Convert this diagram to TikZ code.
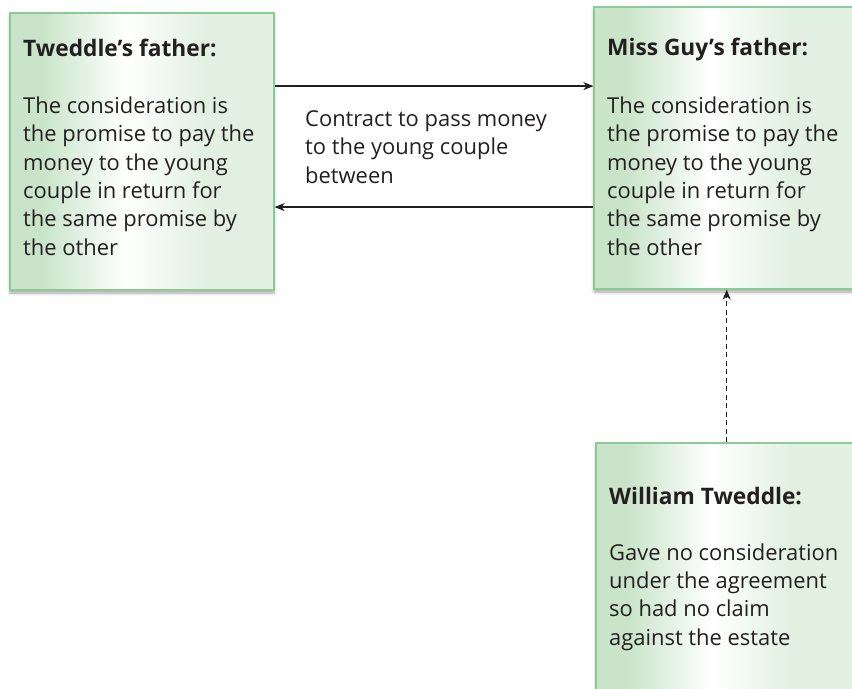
\documentclass[tikz,border=0pt]{standalone}
\usepackage{fontspec}
\setmainfont{Open Sans}
\usetikzlibrary{arrows.meta,shadows.blur}

\definecolor{inkgray}{HTML}{231F20}
\definecolor{boxgreenL}{HTML}{C9E4C9}
\definecolor{boxgreenR}{HTML}{E1F0E1}
\definecolor{boxedge}{HTML}{8CCB94}

% horizontal fill: green at left, white just before the middle, pale green at right
\pgfdeclarehorizontalshading{boxshade}{100bp}{%
  color(0bp)=(boxgreenL); color(25bp)=(boxgreenL); color(31bp)=(boxgreenL);
  color(47bp)=(white); color(62bp)=(boxgreenR); color(75bp)=(boxgreenR);
  color(100bp)=(boxgreenR)}

\tikzset{
  card/.style={rectangle, draw=boxedge, line width=1.2bp, shade, shading=boxshade,
    inner sep=0pt,
    blur shadow={shadow xshift=0bp, shadow yshift=-3bp, shadow blur radius=3bp,
      shadow opacity=35}},
  cardtitle/.style={anchor=base west, inner sep=0pt, text=inkgray,
    font=\fontsize{22.8}{28.4}\selectfont\bfseries},
  % multi-line bodies: the base anchor sits on the last line
  cardbody/.style={anchor=base west, inner sep=0pt, align=left, text=inkgray,
    font=\fontsize{22}{28.4}\selectfont},
  conn/.style={draw=inkgray, line width=1.4bp,
    -{Stealth[length=10bp,width=8bp,inset=3bp]}},
  dashconn/.style={conn, dash pattern=on 5bp off 3.5bp, line width=1bp}
}

\begin{document}
\begin{tikzpicture}[x=1bp,y=-1bp]
\useasboundingbox (0,0) rectangle (852,689);
\clip (0,0) rectangle (852,689);

% the three parties
\node[card, minimum width=264bp, minimum height=277bp] (tf) at (142,151.5) {};
\node[card, minimum width=264bp, minimum height=282bp] (mg) at (726,148) {};
\node[card, minimum width=264bp, minimum height=280bp] (wt) at (728,583) {};

% texts of the boxes
\node[cardtitle] (tfhead) at (23,57) {Tweddle’s father:};
\node[cardbody] (tfbody) at (23,255) {The consideration is\\the promise to pay the\\money to the young\\couple in return for\\the same promise by\\the other};

\node[cardtitle] (mghead) at (607,55.5) {Miss Guy’s father:};
\node[cardbody] (mgbody) at (607,255) {The consideration is\\the promise to pay the\\money to the young\\couple in return for\\the same promise by\\the other};

\node[cardtitle] (wthead) at (609,504) {William Tweddle:};
\node[cardbody] (wtbody) at (609,645) {Gave no consideration\\under the agreement\\so had no claim\\against the estate};

% label between the two fathers
\node[cardbody] (contract) at (305,183) {Contract to pass money\\to the young couple\\between};

% contract arrows between the fathers
\path ([yshift=-73.7bp]tf.north east) coordinate (topL);
\path ([yshift=-200.7bp]mg.north west) coordinate (botR);
\draw[conn] (topL) -- (topL -| mg.west);
\draw[conn] (botR) -- (botR -| tf.east);

% William Tweddle's link to Miss Guy's father
\draw[dashconn] ([xshift=-1.3bp]wt.north) -- ([xshift=-1.3bp]wt.north |- mg.south);
\end{tikzpicture}
\end{document}
